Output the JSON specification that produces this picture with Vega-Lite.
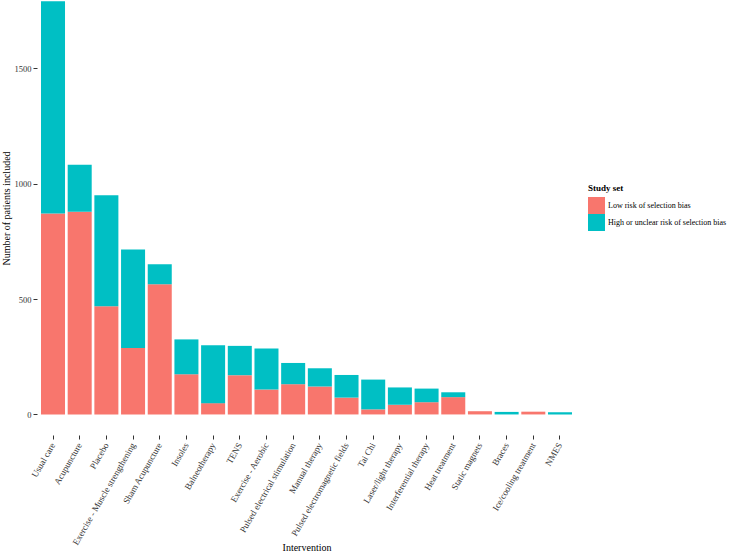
{
  "$schema": "https://vega.github.io/schema/vega-lite/v6.json",
  "autosize": {"type": "none"},
  "padding": {"left": 37, "top": 0, "right": 157, "bottom": 117},
  "width": 539,
  "height": 435,
  "background": "white",
  "config": {
    "view": {"stroke": null},
    "font": "Liberation Serif"
  },
  "data": {
    "values": [
      {"intervention": "Usual care", "set": "Low risk of selection bias", "patients": 870},
      {"intervention": "Usual care", "set": "High or unclear risk of selection bias", "patients": 920},
      {"intervention": "Acupuncture", "set": "Low risk of selection bias", "patients": 878},
      {"intervention": "Acupuncture", "set": "High or unclear risk of selection bias", "patients": 204},
      {"intervention": "Placebo", "set": "Low risk of selection bias", "patients": 469},
      {"intervention": "Placebo", "set": "High or unclear risk of selection bias", "patients": 480},
      {"intervention": "Exercise - Muscle strengthening", "set": "Low risk of selection bias", "patients": 288},
      {"intervention": "Exercise - Muscle strengthening", "set": "High or unclear risk of selection bias", "patients": 426},
      {"intervention": "Sham Acupuncture", "set": "Low risk of selection bias", "patients": 564},
      {"intervention": "Sham Acupuncture", "set": "High or unclear risk of selection bias", "patients": 86},
      {"intervention": "Insoles", "set": "Low risk of selection bias", "patients": 174},
      {"intervention": "Insoles", "set": "High or unclear risk of selection bias", "patients": 151},
      {"intervention": "Balneotherapy", "set": "Low risk of selection bias", "patients": 49},
      {"intervention": "Balneotherapy", "set": "High or unclear risk of selection bias", "patients": 251},
      {"intervention": "TENS", "set": "Low risk of selection bias", "patients": 170},
      {"intervention": "TENS", "set": "High or unclear risk of selection bias", "patients": 127},
      {"intervention": "Exercise - Aerobic", "set": "Low risk of selection bias", "patients": 108},
      {"intervention": "Exercise - Aerobic", "set": "High or unclear risk of selection bias", "patients": 178},
      {"intervention": "Pulsed electrical stimulation", "set": "Low risk of selection bias", "patients": 131},
      {"intervention": "Pulsed electrical stimulation", "set": "High or unclear risk of selection bias", "patients": 92},
      {"intervention": "Manual therapy", "set": "Low risk of selection bias", "patients": 121},
      {"intervention": "Manual therapy", "set": "High or unclear risk of selection bias", "patients": 79},
      {"intervention": "Pulsed electromagnetic fields", "set": "Low risk of selection bias", "patients": 73},
      {"intervention": "Pulsed electromagnetic fields", "set": "High or unclear risk of selection bias", "patients": 98},
      {"intervention": "Tai Chi", "set": "Low risk of selection bias", "patients": 22},
      {"intervention": "Tai Chi", "set": "High or unclear risk of selection bias", "patients": 129},
      {"intervention": "Laser/light therapy", "set": "Low risk of selection bias", "patients": 42},
      {"intervention": "Laser/light therapy", "set": "High or unclear risk of selection bias", "patients": 75},
      {"intervention": "Interferential therapy", "set": "Low risk of selection bias", "patients": 53},
      {"intervention": "Interferential therapy", "set": "High or unclear risk of selection bias", "patients": 59},
      {"intervention": "Heat treatment", "set": "Low risk of selection bias", "patients": 75},
      {"intervention": "Heat treatment", "set": "High or unclear risk of selection bias", "patients": 21},
      {"intervention": "Static magnets", "set": "Low risk of selection bias", "patients": 14},
      {"intervention": "Static magnets", "set": "High or unclear risk of selection bias", "patients": 0},
      {"intervention": "Braces", "set": "Low risk of selection bias", "patients": 0},
      {"intervention": "Braces", "set": "High or unclear risk of selection bias", "patients": 11},
      {"intervention": "Ice/cooling treatment", "set": "Low risk of selection bias", "patients": 12},
      {"intervention": "Ice/cooling treatment", "set": "High or unclear risk of selection bias", "patients": 0},
      {"intervention": "NMES", "set": "Low risk of selection bias", "patients": 0},
      {"intervention": "NMES", "set": "High or unclear risk of selection bias", "patients": 10}
    ]
  },
  "mark": {"type": "bar"},
  "encoding": {
    "x": {
      "field": "intervention",
      "type": "nominal",
      "sort": null,
      "scale": {"paddingInner": 0.1, "paddingOuter": 0.15},
      "axis": {
        "title": "Intervention",
        "titleFontSize": 10,
        "titleFontWeight": "normal",
        "titleColor": "black",
        "titleBaseline": "alphabetic",
        "titleY": 115,
        "labelAngle": -60,
        "labelFontSize": 9,
        "labelColor": "#333333",
        "labelPadding": 4,
        "tickSize": 4,
        "tickColor": "#333333",
        "domain": false,
        "grid": false
      }
    },
    "y": {
      "field": "patients",
      "type": "quantitative",
      "stack": "zero",
      "scale": {"domain": [-89, 1795], "nice": false, "zero": false},
      "axis": {
        "title": "Number of patients included",
        "titleFontSize": 10,
        "titleFontWeight": "normal",
        "titleColor": "black",
        "titleBaseline": "alphabetic",
        "titleX": -27.5,
        "titleY": 208,
        "values": [0, 500, 1000, 1500],
        "format": "d",
        "labelFontSize": 8.5,
        "labelColor": "#333333",
        "labelPadding": 2,
        "tickSize": 4,
        "tickColor": "#333333",
        "domain": false,
        "grid": false
      }
    },
    "color": {
      "field": "set",
      "type": "nominal",
      "scale": {
        "domain": ["Low risk of selection bias", "High or unclear risk of selection bias"],
        "range": ["#F8766D", "#00BFC4"]
      },
      "legend": {
        "title": "Study set",
        "orient": "none",
        "legendX": 551,
        "legendY": 184,
        "titleFontSize": 9,
        "titleFontWeight": "bold",
        "titleColor": "black",
        "titlePadding": 4,
        "labelFontSize": 8,
        "labelColor": "black",
        "labelOffset": 3,
        "symbolType": "square",
        "symbolSize": 289,
        "symbolStrokeWidth": 0,
        "symbolOpacity": 1,
        "rowPadding": 0
      }
    },
    "order": {"field": "set", "sort": "descending"}
  }
}
